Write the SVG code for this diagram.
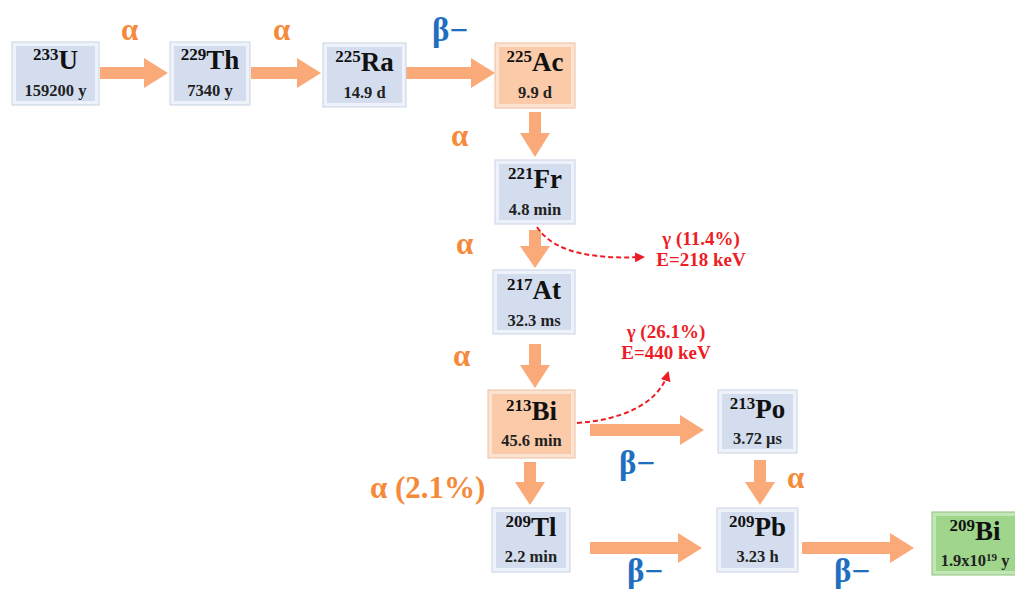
<svg xmlns="http://www.w3.org/2000/svg" width="1015" height="592" viewBox="0 0 1015 592">
<defs>
<style>
text{font-family:'Liberation Serif','Times New Roman','DejaVu Serif',serif;font-weight:bold}
.bo{fill:#EEF2FA;stroke:#C9D3E4;stroke-width:1}
.bi{fill:#D3DDEE}
.oo{fill:#FDE3D2;stroke:#F0BFA0;stroke-width:1}
.oi{fill:#FBCBA9}
.go{fill:#C3E6B6;stroke:#8CC27A;stroke-width:1}
.gi{fill:#9FD68B}
.el{font-size:27px;fill:#111;text-anchor:middle}
.sup{font-size:17px}
.hl{font-size:16.5px;fill:#222;text-anchor:middle}
.arr{fill:#FAAA78}
.a{font-size:31px;fill:#F58A3A}
.b{font-size:33px;fill:#1F6FC0}
.g{font-size:19px;fill:#EE1C24;text-anchor:middle}
.dash{fill:none;stroke:#EE1C24;stroke-width:2;stroke-dasharray:5,3}
</style>
<marker id="rh" viewBox="0 0 10 10" refX="8" refY="5" markerWidth="5" markerHeight="5" orient="auto">
<path d="M0,0 L10,5 L0,10 z" fill="#EE1C24"/>
</marker>
</defs>

<g id="connectors">
<polygon class="arr" points="100,67 144,67 144,58 168,73 144,88 144,79 100,79"/>
<polygon class="arr" points="251,67 297,67 297,58 321,73 297,88 297,79 251,79"/>
<polygon class="arr" points="405,67 471,67 471,58 495,73 471,88 471,79 405,79"/>
<polygon class="arr" points="529,112 541,112 541,133 550,133 535,157 520,133 529,133"/>
<polygon class="arr" points="529,230 541,230 541,246 550,246 535,268 520,246 529,246"/>
<polygon class="arr" points="529,344 541,344 541,365 550,365 535,388 520,365 529,365"/>
<polygon class="arr" points="590,424 680,424 680,415 704,430 680,445 680,436 590,436"/>
<polygon class="arr" points="524,462 536,462 536,482 545,482 530,505 515,482 524,482"/>
<polygon class="arr" points="754,460 766,460 766,482 775,482 760,505 745,482 754,482"/>
<polygon class="arr" points="590,542 678,542 678,533 702,548 678,563 678,554 590,554"/>
<polygon class="arr" points="802,542 890,542 890,533 914,548 890,563 890,554 802,554"/>
<path class="dash" d="M537,227 C555,255 600,259 643,257" marker-end="url(#rh)"/>
<path class="dash" d="M577,423 C620,420 658,405 668,373" marker-end="url(#rh)"/>
</g>

<g id="labels">
<text class="a" x="121" y="40">α</text>
<text class="a" x="273" y="40">α</text>
<text class="b" x="432" y="41">β−</text>
<text class="a" x="451" y="146">α</text>
<text class="a" x="456" y="254">α</text>
<text class="a" x="453" y="366">α</text>
<text class="a" x="370" y="498" font-size="35">α (2.1%)</text>
<text class="b" x="619" y="474">β−</text>
<text class="a" x="787" y="488">α</text>
<text class="b" x="627" y="582">β−</text>
<text class="b" x="834" y="582">β−</text>
<text class="g" x="701" y="245">γ (11.4%)</text>
<text class="g" x="701" y="266">E=218 keV</text>
<text class="g" x="666" y="338">γ (26.1%)</text>
<text class="g" x="666" y="359">E=440 keV</text>
</g>

<g id="n-U233">
<rect class="bo" x="12" y="42" width="87" height="63"/><rect class="bi" x="16" y="46" width="79" height="55"/>
<text class="el" x="55.5" y="69"><tspan class="sup" dy="-9">233</tspan><tspan dy="9">U</tspan></text>
<text class="hl" x="55.5" y="96">159200 y</text>
</g>
<g id="n-Th229">
<rect class="bo" x="170" y="42" width="80" height="63"/><rect class="bi" x="174" y="46" width="72" height="55"/>
<text class="el" x="210" y="69"><tspan class="sup" dy="-9">229</tspan><tspan dy="9">Th</tspan></text>
<text class="hl" x="210" y="96">7340 y</text>
</g>
<g id="n-Ra225">
<rect class="bo" x="323" y="43" width="83" height="64"/><rect class="bi" x="327" y="47" width="75" height="56"/>
<text class="el" x="364.5" y="71"><tspan class="sup" dy="-9">225</tspan><tspan dy="9">Ra</tspan></text>
<text class="hl" x="364.5" y="98">14.9 d</text>
</g>
<g id="n-Ac225">
<rect class="oo" x="495" y="43" width="80" height="65"/><rect class="oi" x="499" y="47" width="72" height="57"/>
<text class="el" x="535" y="71"><tspan class="sup" dy="-9">225</tspan><tspan dy="9">Ac</tspan></text>
<text class="hl" x="535" y="98">9.9 d</text>
</g>
<g id="n-Fr221">
<rect class="bo" x="495" y="160" width="80" height="64"/><rect class="bi" x="499" y="164" width="72" height="56"/>
<text class="el" x="535" y="188"><tspan class="sup" dy="-9">221</tspan><tspan dy="9">Fr</tspan></text>
<text class="hl" x="535" y="215">4.8 min</text>
</g>
<g id="n-At217">
<rect class="bo" x="493" y="270" width="82" height="64"/><rect class="bi" x="497" y="274" width="74" height="56"/>
<text class="el" x="534" y="299"><tspan class="sup" dy="-9">217</tspan><tspan dy="9">At</tspan></text>
<text class="hl" x="534" y="326">32.3 ms</text>
</g>
<g id="n-Bi213">
<rect class="oo" x="488" y="390" width="87" height="68"/><rect class="oi" x="492" y="394" width="79" height="60"/>
<text class="el" x="531.5" y="420"><tspan class="sup" dy="-9">213</tspan><tspan dy="9">Bi</tspan></text>
<text class="hl" x="531.5" y="446">45.6 min</text>
</g>
<g id="n-Po213">
<rect class="bo" x="718" y="390" width="79" height="63"/><rect class="bi" x="722" y="394" width="71" height="55"/>
<text class="el" x="757.5" y="418"><tspan class="sup" dy="-9">213</tspan><tspan dy="9">Po</tspan></text>
<text class="hl" x="757.5" y="444">3.72 μs</text>
</g>
<g id="n-Tl209">
<rect class="bo" x="492" y="508" width="78" height="64"/><rect class="bi" x="496" y="512" width="70" height="56"/>
<text class="el" x="531" y="536"><tspan class="sup" dy="-9">209</tspan><tspan dy="9">Tl</tspan></text>
<text class="hl" x="531" y="562">2.2 min</text>
</g>
<g id="n-Pb209">
<rect class="bo" x="717" y="508" width="81" height="64"/><rect class="bi" x="721" y="512" width="73" height="56"/>
<text class="el" x="757.5" y="536"><tspan class="sup" dy="-9">209</tspan><tspan dy="9">Pb</tspan></text>
<text class="hl" x="757.5" y="562">3.23 h</text>
</g>
<g id="n-Bi209">
<rect class="go" x="932" y="512" width="90" height="63"/><rect class="gi" x="936" y="516" width="82" height="55"/>
<text class="el" x="975" y="540"><tspan class="sup" dy="-9">209</tspan><tspan dy="9">Bi</tspan></text>
<text class="hl" x="975" y="566">1.9x10<tspan font-size="11" dy="-5">19</tspan><tspan dy="5"> y</tspan></text>
</g>
</svg>
